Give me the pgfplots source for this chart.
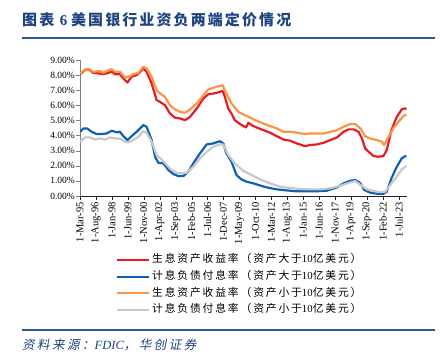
\documentclass[border=0pt]{standalone}
\usepackage{fontspec}
\setmainfont{Liberation Serif}
\newfontfamily\cjk{Noto Sans CJK SC}
\newfontfamily\cjkt[LetterSpace=14]{Noto Sans CJK SC}
\newfontfamily\cjkl[LetterSpace=17]{Noto Sans CJK SC}
\newfontfamily\cjkit[FakeSlant=0.2,LetterSpace=20]{Noto Sans CJK SC}
\usepackage{pgfplots}
\pgfplotsset{compat=1.18}
\definecolor{cred}{RGB}{232,28,36}
\definecolor{cblue}{RGB}{16,96,184}
\definecolor{corange}{RGB}{248,150,70}
\definecolor{cgray}{RGB}{200,200,200}
\definecolor{tblue}{RGB}{31,68,128}
\definecolor{rblue}{RGB}{44,86,146}
\begin{document}
\begin{tikzpicture}
\useasboundingbox (0,0) rectangle (441bp,-362bp);
\node[anchor=west,inner sep=0pt,text=tblue,font=\fontsize{15bp}{15bp}\selectfont\bfseries] at (22bp,-20bp) {\cjkt 图表\ \normalfont\bfseries 6\ \cjkt 美国银行业资负两端定价情况};
\draw[rblue,line width=2bp] (22bp,-37.7bp) -- (435bp,-37.7bp);
\draw[rblue,line width=1.2bp] (22bp,-330bp) -- (435bp,-330bp);
\node[anchor=west,inner sep=0pt,text=tblue,font=\fontsize{12.5bp}{12.5bp}\selectfont] at (22bp,-345bp) {\cjkit 资料来源：\normalfont\itshape FDIC\cjkit ，华创证券};
\begin{axis}[
  at={(80bp,-196bp)}, anchor=south west,
  scale only axis, width=327bp, height=136bp,
  xmin=0, xmax=348.6, ymin=0, ymax=9,
  axis lines*=left,
  x axis line style={black!85},
  y axis line style={black!50},
  tick align=outside,
  major tick length=4bp,
  xtick={0,17,...,340},
  xticklabels={1-Mar-95,1-Aug-96,1-Jan-98,1-Jun-99,1-Nov-00,1-Apr-02,1-Sep-03,1-Feb-05,1-Jul-06,1-Dec-07,1-May-09,1-Oct-10,1-Mar-12,1-Aug-13,1-Jan-15,1-Jun-16,1-Nov-17,1-Apr-19,1-Sep-20,1-Feb-22,1-Jul-23},
  x tick label style={rotate=90,anchor=east,font=\fontsize{10.5bp}{10.5bp}\selectfont,inner sep=2bp},
  ytick={0,1,...,9},
  yticklabels={0.00\%,1.00\%,2.00\%,3.00\%,4.00\%,5.00\%,6.00\%,7.00\%,8.00\%,9.00\%},
  y tick label style={font=\fontsize{9.5bp}{9.5bp}\selectfont,inner sep=1bp},
  x tick style={black!85}, y tick style={black!50},
  every axis plot/.append style={line width=2.2bp, line join=round},
  legend image code/.code={\draw[#1] (0bp,0bp) -- (32bp,0bp);},
  legend cell align=left,
  legend style={at={(0.110,-0.409)}, anchor=north west, draw=none, fill=none,
    inner sep=0pt, outer sep=0pt,
    font=\fontsize{10.8bp}{10.8bp}\selectfont,
    nodes={inner xsep=2bp, inner ysep=3.1bp, text height=8bp, text depth=2.5bp}},
]
\addplot[cred] coordinates {(0,8.06)(5.3,8.33)(8.9,8.39)(14.2,8.15)(21.3,8.10)(24.9,8.06)(30.2,8.15)(33.8,8.24)(37.3,8.06)(42.6,8.06)(46.2,7.78)(50.5,7.51)(55,7.89)(60.4,8.00)(64,8.20)(67.5,8.44)(71,8.22)(76.4,7.44)(81.7,6.34)(85.3,6.23)(90.6,6.01)(95.9,5.46)(101.3,5.18)(106.6,5.13)(112,5.02)(117.3,5.24)(124.4,5.79)(131.5,6.45)(136.8,6.74)(142,6.78)(145.7,6.83)(149,6.89)(152,6.96)(154.5,6.56)(158,5.79)(161.5,5.46)(165,5.02)(170.6,4.76)(177,4.54)(179.5,4.85)(183,4.69)(188,4.54)(195.5,4.36)(202.6,4.19)(209.7,3.96)(216.8,3.74)(223.9,3.66)(231,3.48)(240,3.30)(245,3.37)(252,3.41)(259.7,3.52)(266.8,3.70)(274,3.88)(281,4.25)(286,4.41)(291.7,4.41)(297,4.25)(300.6,3.81)(304,3.15)(307.6,2.93)(313,2.64)(318,2.60)(323.4,2.64)(327,3.04)(332,4.36)(337.7,5.24)(343,5.73)(346,5.80)(348,5.76)};
\addlegendentry{\cjkl 生息资产收益率（资产大于\normalfont 10\cjkl 亿美元）}
\addplot[cblue] coordinates {(0,4.25)(3.6,4.47)(7.8,4.47)(12.4,4.25)(17.8,4.10)(23.1,4.10)(28.4,4.14)(33.8,4.32)(39.1,4.21)(42.6,4.25)(46.2,3.96)(50.5,3.70)(55,3.96)(60.4,4.25)(64,4.47)(67.5,4.69)(71,4.58)(76.4,3.70)(80,2.60)(83.5,2.20)(88.8,2.16)(94.2,1.72)(99.5,1.45)(104.8,1.32)(110.2,1.32)(115.5,1.61)(120.8,2.16)(127.9,2.82)(135,3.41)(142.1,3.48)(144,3.52)(149,3.63)(152.8,3.48)(156,2.82)(161.5,2.27)(166.8,1.39)(172,1.10)(177.5,0.95)(184.6,0.84)(191.8,0.70)(199,0.57)(209.7,0.44)(220.4,0.37)(231,0.31)(241.8,0.31)(252,0.31)(263,0.35)(274,0.57)(281,0.84)(288,1.01)(293.5,1.06)(299,0.84)(303,0.40)(309.4,0.22)(316.6,0.15)(323.4,0.15)(327,0.29)(332,1.17)(337.7,1.94)(343,2.49)(346,2.62)(348,2.64)};
\addlegendentry{\cjkl 计息负债付息率（资产大于\normalfont 10\cjkl 亿美元）}
\addplot[corange] coordinates {(0,8.10)(5.3,8.37)(8.9,8.41)(14.2,8.22)(21.3,8.28)(24.9,8.15)(30.2,8.33)(33.8,8.39)(37.3,8.22)(42.6,8.22)(48,7.84)(51.5,7.89)(56.9,8.06)(62.2,8.15)(67.5,8.55)(71,8.44)(76.4,7.89)(81.7,7.00)(85.3,6.78)(90.6,6.56)(95.9,6.01)(101.3,5.73)(106.6,5.57)(112,5.51)(117.3,5.73)(124.4,6.12)(131.5,6.67)(136.8,7.05)(142,7.15)(146,7.25)(149,7.27)(152,7.33)(156,6.78)(161.5,6.12)(168.8,5.57)(174,5.40)(181,5.20)(188,4.98)(195.5,4.80)(202.6,4.63)(209.7,4.47)(216.8,4.25)(224,4.25)(231,4.19)(240,4.10)(245,4.14)(252,4.14)(259.7,4.14)(266.8,4.25)(274,4.36)(281,4.58)(288,4.76)(293.5,4.76)(299,4.47)(304,3.96)(309,3.81)(316.6,3.70)(322,3.59)(324,3.37)(329,3.92)(334,4.47)(339.5,4.91)(344.8,5.29)(348,5.40)};
\addlegendentry{\cjkl 生息资产收益率（资产小于\normalfont 10\cjkl 亿美元）}
\addplot[cgray] coordinates {(0,3.59)(5.3,3.88)(10.7,3.88)(16,3.74)(21.3,3.81)(26.7,3.74)(32,3.88)(37.3,3.81)(42.6,3.81)(48,3.59)(51.5,3.55)(56.9,3.70)(62.2,3.92)(67.5,4.30)(71,4.19)(76.4,3.59)(81.7,2.71)(87,2.42)(92.4,2.05)(97.7,1.72)(103,1.54)(108.4,1.50)(113.7,1.54)(120.8,1.94)(127.9,2.49)(135,2.93)(142.1,3.26)(149,3.41)(152.8,3.41)(158,2.71)(165,2.16)(174,1.67)(183,1.39)(191.8,1.10)(202.6,0.84)(213,0.62)(224,0.53)(234.6,0.46)(245,0.44)(256,0.44)(266.8,0.51)(277.5,0.68)(288,0.90)(293.5,0.99)(299,0.73)(306,0.44)(313,0.33)(320,0.26)(325.5,0.29)(332,0.84)(337.7,1.28)(343,1.76)(348,1.98)};
\addlegendentry{\cjkl 计息负债付息率（资产小于\normalfont 10\cjkl 亿美元）}
\end{axis}
\end{tikzpicture}
\end{document}
